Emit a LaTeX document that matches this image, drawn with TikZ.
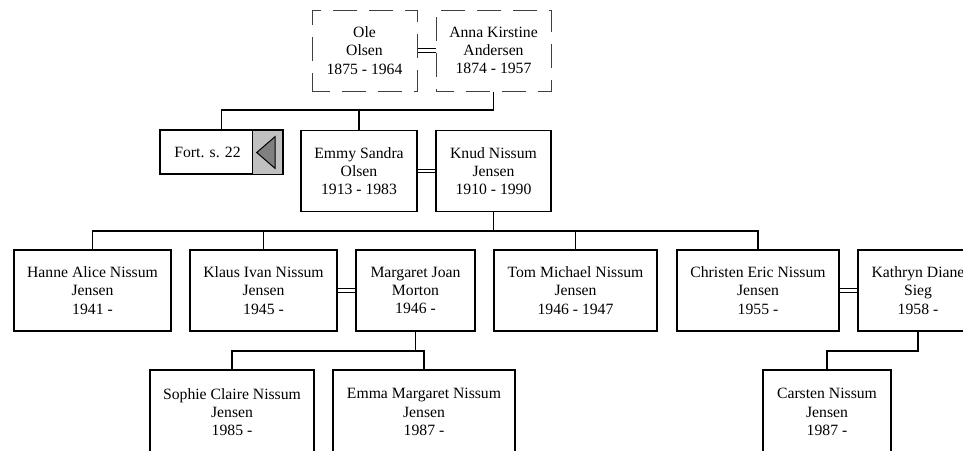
\documentclass[tikz,border=0pt]{standalone}
\usepackage{fontspec}
\setmainfont{Liberation Serif}
\begin{document}
\begin{tikzpicture}[x=1pt,y=-1pt,
  person/.style={draw=black, line width=1.6pt, fill=white, rectangle, inner sep=0pt,
    minimum height=81pt, align=center, font=\fontsize{15.7}{18.3}\selectfont},
  ancestor/.style={draw=black!75, line width=1pt, rectangle, inner sep=0pt,
    dash pattern=on 24pt off 12pt, dash phase=6pt,
    minimum height=81pt, align=center, font=\fontsize{15.7}{18.3}\selectfont},
  link/.style={draw=black, line width=1.6pt},
  marriage/.style={draw=black, line width=0.9pt, double, double distance=2.6pt},
  refbox/.style={draw=black, line width=1.6pt, rectangle, inner sep=0pt,
    minimum width=123pt, minimum height=44pt},
  reflabel/.style={inner sep=0pt, font=\fontsize{15.7}{18.3}\selectfont},
]
\useasboundingbox (0,0) rectangle (963,450);

% generation 1
\node[ancestor, minimum width=105pt] (ole)  at (364.5,50.5) {Ole\\Olsen\\1875 - 1964};
\node[ancestor, minimum width=115pt] (anna) at (493.5,50.5) {Anna Kirstine\\Andersen\\1874 - 1957};

% generation 2
\node[refbox] (fort) at (221.5,152) {};
\fill[fill={rgb,255:red,192;green,192;blue,192}] (252,131) rectangle (281.5,173.5);
\draw[line width=0.8pt] (252,131) -- (252,173.5);
\draw[line width=1pt, fill={rgb,255:red,128;green,128;blue,128}]
  (256.7,152.5) -- (275,136.7) -- (275,168.3) -- cycle;
\draw[line width=1.2pt] (282.6,130.5) -- (282.6,174.8) -- (160.5,174.8);
\node[reflabel] (fortlabel) at (207.5,152) {Fort. s. 22};

\node[person, minimum width=116pt] (emmy) at (359,171) {Emmy Sandra\\Olsen\\1913 - 1983};
\node[person, minimum width=115pt] (knud) at (493.5,171) {Knud Nissum\\Jensen\\1910 - 1990};

% generation 3
\node[person, minimum width=157pt] (hanne)    at (92.5,290.5)  {Hanne Alice Nissum\\Jensen\\1941 -};
\node[person, minimum width=147pt] (klaus)    at (263.5,290.5) {Klaus Ivan Nissum\\Jensen\\1945 -};
\node[person, minimum width=119pt] (margaret) at (415.5,290.5) {Margaret Joan\\Morton\\1946 -};
\node[person, minimum width=163pt] (tom)      at (575.5,290.5) {Tom Michael Nissum\\Jensen\\1946 - 1947};
\node[person, minimum width=162pt] (christen) at (758,290.5)   {Christen Eric Nissum\\Jensen\\1955 -};
\node[person, minimum width=120pt] (kathryn)  at (918,290.5)   {Kathryn Diane\\Sieg\\1958 -};

% generation 4 (bottom edges fall just below the picture)
\node[person, minimum width=164pt, minimum height=84pt] (sophie)  at (232,412) {Sophie Claire Nissum\\Jensen\\1985 -};
\node[person, minimum width=182pt, minimum height=84pt] (emma)    at (424,412) {Emma Margaret Nissum\\Jensen\\1987 -};
\node[person, minimum width=128pt, minimum height=84pt] (carsten) at (827,412) {Carsten Nissum\\Jensen\\1987 -};

% marriages
\draw[marriage] (ole) -- (anna);
\draw[marriage] (emmy) -- (knud);
\draw[marriage] (klaus) -- (margaret);
\draw[marriage] (christen) -- (kathryn);

% descent bars
\coordinate (bar1) at (0,110);
\coordinate (bar2) at (0,231);
\coordinate (bar3) at (0,351);

\draw[link] (anna.south) -- (anna.south |- bar1) -| (fort.north);
\draw[link] (emmy.north) -- (emmy.north |- bar1);

\draw[link] (knud.south) -- (knud.south |- bar2);
\draw[link] (hanne.north) -- (hanne.north |- bar2) -| (christen.north);
\draw[link] (klaus.north) -- (klaus.north |- bar2);
\draw[link] (tom.north) -- (tom.north |- bar2);

\draw[link] (margaret.south) -- (margaret.south |- bar3);
\draw[link] (sophie.north) -- (sophie.north |- bar3) -| (emma.north);

\draw[link] (kathryn.south) -- (kathryn.south |- bar3) -| (carsten.north);
\end{tikzpicture}
\end{document}
